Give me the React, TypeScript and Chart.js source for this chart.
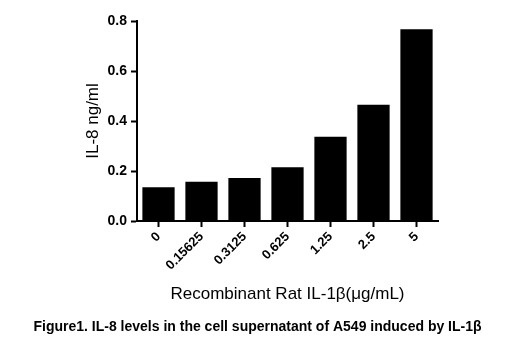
import React, { useEffect, useRef } from "react";
import { Chart, registerables } from "chart.js";

Chart.register(...registerables);

const categories = ["0", "0.15625", "0.3125", "0.625", "1.25", "2.5", "5"];
const il8Values = [0.135, 0.157, 0.172, 0.215, 0.337, 0.465, 0.767];
const yTicks = [0, 0.2, 0.4, 0.6, 0.8];
const xTitle = "Recombinant Rat IL-1β(μg/mL)";
const yTitle = "IL-8 ng/ml";
const caption = "Figure1. IL-8 levels in the cell supernatant of A549 induced by IL-1β";

const FONT = "'Liberation Sans', Arial, sans-serif";

const captionPlugin = {
  id: "captionPlugin",
  afterDraw(chart: any) {
    const ctx = chart.ctx;
    ctx.save();
    ctx.fillStyle = "#000000";
    ctx.font = "bold 14px " + FONT;
    ctx.textAlign = "center";
    ctx.textBaseline = "middle";
    ctx.fillText(caption, 257.5, 327);
    ctx.restore();
  },
};

export default function App() {
  const ref = useRef<HTMLCanvasElement | null>(null);

  useEffect(() => {
    document.body.style.margin = "0";
    const canvas = ref.current;
    if (!canvas) return;
    const chart = new Chart(canvas, {
      type: "bar",
      data: {
        labels: categories,
        datasets: [
          {
            data: il8Values,
            backgroundColor: "#000000",
            borderWidth: 0,
            barPercentage: 0.75,
            categoryPercentage: 1,
          },
        ],
      },
      plugins: [captionPlugin],
      options: {
        responsive: false,
        animation: false,
        layout: { padding: { left: 75, right: 80, top: 21, bottom: 41.4 } },
        plugins: {
          legend: { display: false },
          tooltip: { enabled: false },
          title: { display: false },
        },
        scales: {
          x: {
            afterFit: (s: any) => {
              s.height = 93.6;
            },
            border: { display: true, color: "#000000", width: 2 },
            grid: {
              display: true,
              drawOnChartArea: false,
              drawTicks: true,
              tickLength: 6,
              tickColor: "#000000",
              tickWidth: 2,
              offset: false,
            },
            ticks: {
              color: "#000000",
              font: { family: FONT, size: 13, weight: "bold" },
              maxRotation: 45,
              minRotation: 45,
              padding: 2,
            },
            title: {
              display: true,
              text: xTitle,
              color: "#000000",
              font: { family: FONT, size: 17 },
              padding: { top: 0, bottom: 10.4 },
            },
          },
          y: {
            min: 0,
            max: 0.8,
            afterFit: (s: any) => {
              s.width = 62;
            },
            afterBuildTicks: (s: any) => {
              s.ticks = yTicks.map((v) => ({ value: v }));
            },
            border: { display: true, color: "#000000", width: 2 },
            grid: {
              display: true,
              drawOnChartArea: false,
              drawTicks: true,
              tickLength: 6,
              tickColor: "#000000",
              tickWidth: 2,
            },
            ticks: {
              color: "#000000",
              font: { family: FONT, size: 14, weight: "bold" },
              padding: 4,
              callback: (v: any) => Number(v).toFixed(1),
            },
            title: {
              display: true,
              text: yTitle,
              color: "#000000",
              font: { family: FONT, size: 17 },
              padding: { top: 7.8, bottom: 0 },
            },
          },
        },
      },
    });
    return () => chart.destroy();
  }, []);

  return (
    <div style={{ position: "absolute", left: 0, top: 0, width: 518, height: 356, background: "#fff" }}>
      <canvas ref={ref} width={518} height={356} style={{ width: 518, height: 356, display: "block" }} />
    </div>
  );
}
